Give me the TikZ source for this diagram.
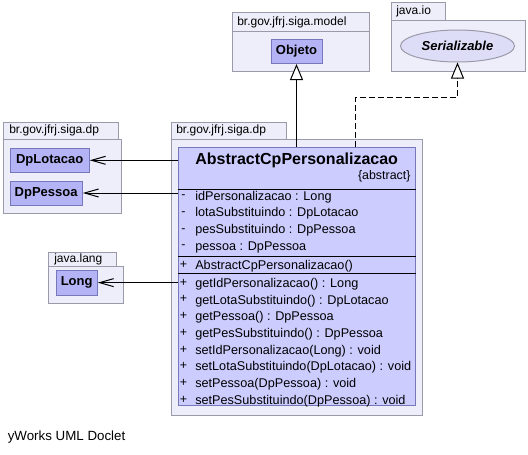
\documentclass[tikz,border=0pt]{standalone}
\usepackage{fontspec}
\setmainfont{Liberation Sans}
\usetikzlibrary{positioning,shapes.geometric,arrows.meta}
\definecolor{pkgfill}{HTML}{EEEEFA}
\definecolor{pkgline}{HTML}{9A9AAA}
\definecolor{clsfill}{HTML}{B3B3F5}
\definecolor{clsline}{HTML}{7777BB}
\definecolor{mainfill}{HTML}{CCCCFF}
\definecolor{ifcfill}{HTML}{DDDDF7}
\newcommand{\upx}{0.75pt}

\begin{document}
\begin{tikzpicture}[
    x=0.75pt, y=-0.75pt,
    pkg/.style={draw=pkgline, fill=pkgfill, line width=0.75pt},
    pkglabel/.style={anchor=west, inner sep=0pt, font=\fontsize{9}{11}\selectfont},
    cls/.style={draw=clsline, fill=clsfill, line width=0.75pt, inner sep=0pt,
        font=\fontsize{9.75}{12}\selectfont\bfseries},
    ifc/.style={ellipse, draw=pkgline, fill=ifcfill, line width=0.75pt, inner sep=0pt,
        font=\fontsize{9.75}{12}\selectfont\bfseries\itshape},
    mainbox/.style={draw=clsline, fill=mainfill, line width=0.75pt, inner sep=0pt},
    member/.style={anchor=west, inner sep=0pt, font=\fontsize{9.5}{11}\selectfont},
    vis/.style={inner sep=0pt, font=\fontsize{9.3}{11}\selectfont},
    sep/.style={draw=black, line width=0.75pt},
    assoc/.style={draw=black, line width=0.75pt, -{Straight Barb[length=10.5pt, width=6pt]}},
    gen/.style={draw=black, line width=0.75pt, -{Triangle[open, fill=white, length=12pt, width=9.75pt]}},
    real/.style={gen, dash pattern=on 4.5pt off 2.25pt}
]
\useasboundingbox (0,0) rectangle (528,454);

% Package br.gov.jfrj.siga.model
\draw[pkg] (232.3,12.3) rectangle (369,31.7);
\draw[pkg] (232.3,31.7) rectangle (369,71.7);
\node[pkglabel] (lbmodel) at (237,22) {br.gov.jfrj.siga.model};
\node[cls, minimum width=51*\upx, minimum height=24.5*\upx] (objeto) at (296.5,51.25) {Objeto};

% Package java.io
\draw[pkg] (391,2.7) rectangle (445.7,20.7);
\draw[pkg] (391,20.7) rectangle (525,71);
\node[pkglabel] (lbio) at (396,11.7) {java.io};
\node[ifc, minimum width=114*\upx, minimum height=32*\upx] (ser) at (457.5,46) {Serializable};

% Package br.gov.jfrj.siga.dp (left)
\draw[pkg] (3,122.3) rectangle (118.3,139);
\draw[pkg] (3,139) rectangle (121,213.3);
\node[pkglabel] (lbdp) at (9,130.7) {br.gov.jfrj.siga.dp};
\node[cls, minimum width=79.3*\upx, minimum height=24*\upx] (dplot) at (49.65,160.3) {DpLotacao};
\node[cls, minimum width=72.3*\upx, minimum height=24*\upx] (dppes) at (46.15,193) {DpPessoa};

% Package java.lang
\draw[pkg] (48.3,252.3) rectangle (116,266.3);
\draw[pkg] (48.3,266.3) rectangle (123.3,303.3);
\node[pkglabel] (lblang) at (54,259.3) {java.lang};
\node[cls, minimum width=41.3*\upx, minimum height=24.7*\upx] (long) at (76.65,282.65) {Long};

% Package br.gov.jfrj.siga.dp (main)
\draw[pkg] (171,122.3) rectangle (286.7,139);
\draw[pkg] (171,139) rectangle (422,415.7);
\node[pkglabel] (lbmain) at (176,130.7) {br.gov.jfrj.siga.dp};

% Class AbstractCpPersonalizacao
\node[mainbox, minimum width=236.7*\upx, minimum height=258.2*\upx] (cp) at (296.65,276.4) {};
\node[inner sep=0pt, font=\fontsize{12}{14}\selectfont\bfseries] (title) at (296.65,160.5) {AbstractCpPersonalizacao};
\node[inner sep=0pt, anchor=east, font=\fontsize{9.3}{11}\selectfont] (abs) at (410.7,176) {\{abstract\}};
\draw[sep] (cp.west |- 0,189.3) -- (cp.east |- 0,189.3);
\foreach \i/\txt in {0/{idPersonalizacao : Long}, 1/{lotaSubstituindo : DpLotacao},
    2/{pesSubstituindo : DpPessoa}, 3/{pessoa : DpPessoa}} {
  \node[vis] (ap\i) at (183.5,{197+16.7*\i}) {-};
  \node[member] (a\i) at (195,{197+16.7*\i}) {\txt};
}
\draw[sep] (cp.west |- 0,256) -- (cp.east |- 0,256);
\node[vis] (cp0) at (183.5,264.5) {+};
\node[member] (c0) at (195,266) {AbstractCpPersonalizacao()};
\draw[sep] (cp.west |- 0,273.4) -- (cp.east |- 0,273.4);
\foreach \i/\txt in {0/{getIdPersonalizacao() : Long}, 1/{getLotaSubstituindo() : DpLotacao},
    2/{getPessoa() : DpPessoa}, 3/{getPesSubstituindo() : DpPessoa},
    4/{setIdPersonalizacao(Long) : void}, 5/{setLotaSubstituindo(DpLotacao) : void},
    6/{setPessoa(DpPessoa) : void}, 7/{setPesSubstituindo(DpPessoa) : void}} {
  \node[vis] (mp\i) at (183.5,{282.7+16.7*\i}) {+};
  \node[member] (m\i) at (195,{284.2+16.7*\i}) {\txt};
}

% Generalization and realization
\draw[gen] (cp.north -| objeto) -- (objeto.south);
\coordinate (bend) at (355,97.6);
\draw[real] (cp.north -| bend) -- (bend) -| (ser.south);

% Associations
\draw[assoc] (cp.west |- dplot.east) -- (dplot.east);
\draw[assoc] (cp.west |- dppes.east) -- (dppes.east);
\draw[assoc] (cp.west |- long.east) -- (long.east);

\node[anchor=west, inner sep=0pt, font=\fontsize{10}{12}\selectfont] (doclet) at (7.5,437.5) {yWorks UML Doclet};
\end{tikzpicture}
\end{document}
